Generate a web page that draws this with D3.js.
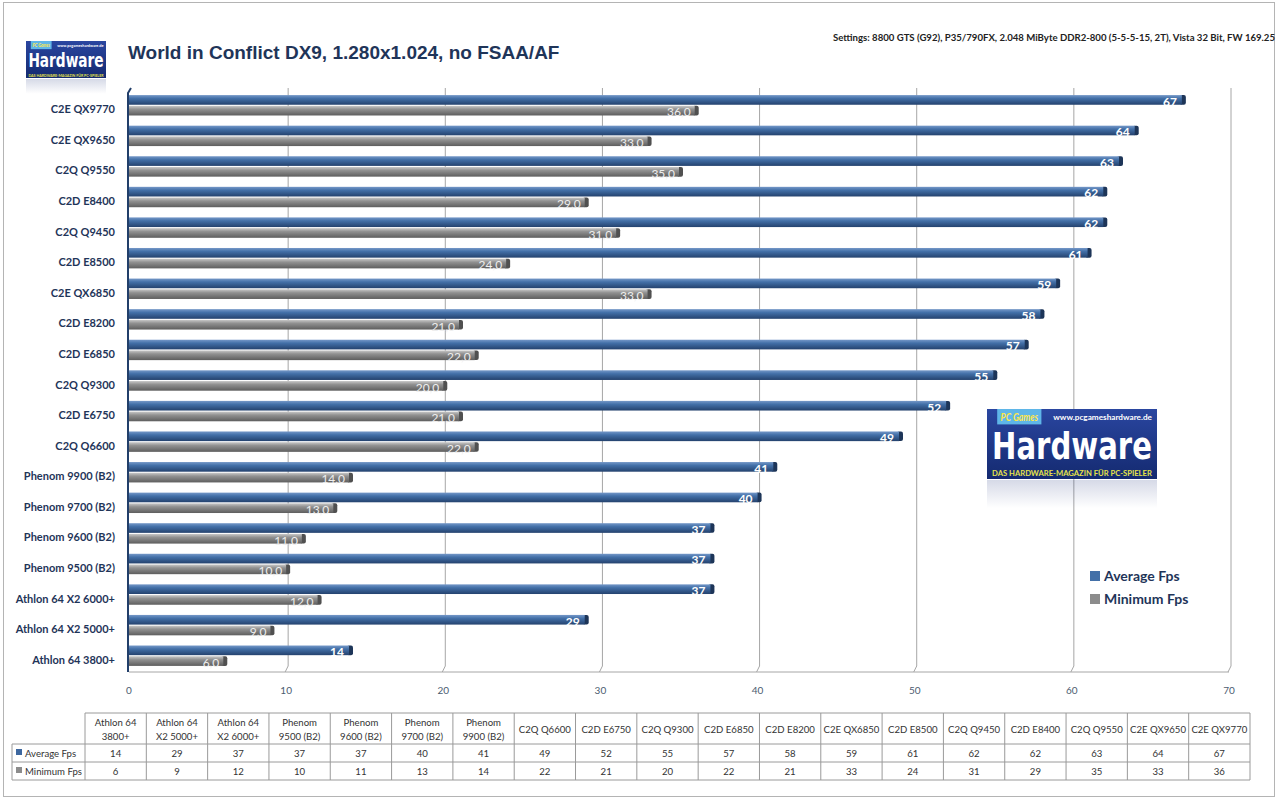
<!doctype html>
<html>
<head>
<meta charset="utf-8">
<script src="https://cdnjs.cloudflare.com/ajax/libs/d3/7.8.5/d3.min.js"></script>
<style>
  body { margin: 0; background: #fff; }
  svg { display: block; font-family: Lato, "Open Sans", sans-serif; }
</style>
</head>
<body>
<svg width="1280" height="798"></svg>
<script>
// data, in the table's order (lowest first)
var cpus = ["Athlon 64 3800+", "Athlon 64 X2 5000+", "Athlon 64 X2 6000+", "Phenom 9500 (B2)",
            "Phenom 9600 (B2)", "Phenom 9700 (B2)", "Phenom 9900 (B2)", "C2Q Q6600", "C2D E6750",
            "C2Q Q9300", "C2D E6850", "C2D E8200", "C2E QX6850", "C2D E8500", "C2Q Q9450",
            "C2D E8400", "C2Q Q9550", "C2E QX9650", "C2E QX9770"];
var avgFps = [14, 29, 37, 37, 37, 40, 41, 49, 52, 55, 57, 58, 59, 61, 62, 62, 63, 64, 67];
var minFps = [6, 9, 12, 10, 11, 13, 14, 22, 21, 20, 22, 21, 33, 24, 31, 29, 35, 33, 36];
var series = ["Average Fps", "Minimum Fps"];
var xTicks = [0, 10, 20, 30, 40, 50, 60, 70];

var svg = d3.select("svg");
var rows = cpus.map(function(c, i) { return {cpu: c, avg: avgFps[i], min: minFps[i]}; });

var x = d3.scaleLinear().domain([0, 70]).range([129, 1229]);
var y = d3.scaleBand().domain(cpus.slice().reverse()).range([90, 671])
          .paddingInner(0.333).paddingOuter(0.1665);
var sub = d3.scaleBand().domain(["avg", "min"]).range([0, y.bandwidth()]).paddingInner(0.1);

// gradients
var defs = svg.append("defs");
function grad(id, stops) {
  var g = defs.append("linearGradient").attr("id", id).attr("x1", 0).attr("y1", 0).attr("x2", 0).attr("y2", 1);
  stops.forEach(function(s) { g.append("stop").attr("offset", s[0]).attr("stop-color", s[1]).attr("stop-opacity", s[2] == null ? 1 : s[2]); });
}
grad("gBlue", [[0, "#7598c8"], [0.35, "#4370a8"], [1, "#24426e"]]);
grad("gGray", [[0, "#c8c8c8"], [0.35, "#919191"], [1, "#5e5e5e"]]);
grad("gLogo", [[0, "#2a46a0"], [1, "#142a70"]]);
grad("gRefl", [[0, "#1a2f7a", 0.18], [1, "#1a2f7a", 0]]);

// outer frame
svg.append("rect").attr("x", 3.5).attr("y", 2.5).attr("width", 1271).attr("height", 794)
   .attr("fill", "none").attr("stroke", "#b4b4b4");

// title + settings
svg.append("text").attr("x", 128).attr("y", 59)
   .attr("font-family", "Liberation Sans, Arial, sans-serif").attr("font-weight", "bold")
   .attr("font-size", 19).attr("fill", "#1f3559")
   .text("World in Conflict DX9, 1.280x1.024, no FSAA/AF");
svg.append("text").attr("x", 1275).attr("y", 41).attr("text-anchor", "end")
   .attr("font-size", 9.6).attr("font-weight", "bold").attr("fill", "#222")
   .text("Settings: 8800 GTS (G92), P35/790FX, 2.048 MiByte DDR2-800 (5-5-5-15, 2T), Vista 32 Bit, FW 169.25");

// logos
function logo(g, w, h) {
  g.append("rect").attr("x", 0).attr("y", h + 1).attr("width", w).attr("height", h * 0.4)
   .attr("fill", "url(#gRefl)");
  g.append("rect").attr("width", w).attr("height", h).attr("fill", "url(#gLogo)");
  g.append("rect").attr("x", w * 0.06).attr("y", 0).attr("width", w * 0.26).attr("height", h * 0.22).attr("fill", "#5fb6e8");
  g.append("text").attr("x", w * 0.08).attr("y", h * 0.17).attr("font-size", h * 0.15)
   .attr("font-style", "italic").attr("font-weight", "bold").attr("fill", "#ffe74a")
   .attr("textLength", w * 0.22).attr("lengthAdjust", "spacingAndGlyphs").text("PC Games");
  g.append("text").attr("x", w * 0.97).attr("y", h * 0.16).attr("text-anchor", "end")
   .attr("font-size", h * 0.1).attr("font-weight", "bold").attr("fill", "#fff")
   .attr("textLength", w * 0.58).attr("lengthAdjust", "spacingAndGlyphs").text("www.pcgameshardware.de");
  g.append("text").attr("x", w * 0.03).attr("y", h * 0.71)
   .attr("font-family", "DejaVu Sans Condensed, DejaVu Sans, sans-serif").attr("font-weight", "bold")
   .attr("font-size", h * 0.54).attr("fill", "#fff")
   .attr("textLength", w * 0.94).attr("lengthAdjust", "spacingAndGlyphs").text("Hardware");
  g.append("text").attr("x", w * 0.03).attr("y", h * 0.96).attr("font-size", h * 0.12)
   .attr("font-weight", "bold").attr("fill", "#e6e34a")
   .attr("textLength", w * 0.94).attr("lengthAdjust", "spacingAndGlyphs")
   .text("DAS HARDWARE-MAGAZIN FÜR PC-SPIELER");
}
logo(svg.append("g").attr("transform", "translate(26,41)"), 80, 37);

// grid with 3D floor
var grid = svg.append("g");
grid.selectAll("path.grid").data(xTicks.slice(1)).enter().append("path")
    .attr("d", function(d) { return "M" + (x(d) + 2) + ",88V666L" + (x(d) - 1) + ",672"; })
    .attr("fill", "none").attr("stroke", "#a6a6a6");
grid.append("path").attr("d", "M129,672H" + x(70)).attr("stroke", "#a6a6a6");
grid.append("path").attr("d", "M131,88L128,93V672").attr("fill", "none").attr("stroke", "#223f6a").attr("stroke-width", 2);

// x tick labels
svg.append("g").selectAll("text").data(xTicks).enter().append("text")
   .attr("x", function(d) { return x(d); }).attr("y", 694).attr("text-anchor", "middle")
   .attr("font-size", 10).attr("fill", "#4b5c70").text(function(d) { return d; });

// category labels
svg.append("g").selectAll("text").data(rows).enter().append("text")
   .attr("x", 115).attr("y", function(d) { return y(d.cpu) + y.bandwidth() / 2 + 8; })
   .attr("text-anchor", "end").attr("font-size", 11).attr("font-weight", "bold").attr("fill", "#1f3559")
   .text(function(d) { return d.cpu.replace(" (B2)", "  (B2)"); });

// bars
function bars(key, fill, cap) {
  var g = svg.append("g");
  var sel = g.selectAll("g").data(rows).enter().append("g");
  sel.append("rect")
     .attr("x", function(d) { return x(d[key]) - 2; })
     .attr("y", function(d) { return y(d.cpu) + sub(key); })
     .attr("width", 6).attr("height", sub.bandwidth()).attr("rx", 2)
     .attr("fill", cap);
  sel.append("rect")
     .attr("x", x(0))
     .attr("y", function(d) { return y(d.cpu) + sub(key); })
     .attr("width", function(d) { return x(d[key]) - x(0); })
     .attr("height", sub.bandwidth()).attr("fill", fill);
  return sel;
}
var blue = bars("avg", "url(#gBlue)", "#1d3558");
var gray = bars("min", "url(#gGray)", "#505050");

blue.append("text")
    .attr("x", function(d) { return x(d.avg) - 5; })
    .attr("y", function(d) { return y(d.cpu) + sub("avg") + sub.bandwidth() + 1; })
    .attr("text-anchor", "end").attr("font-size", 12).attr("font-weight", "bold").attr("fill", "#fff")
    .text(function(d) { return d.avg; });
gray.append("text")
    .attr("x", function(d) { return x(d.min) - 4; })
    .attr("y", function(d) { return y(d.cpu) + sub("min") + sub.bandwidth() + 1; })
    .attr("text-anchor", "end").attr("font-size", 12).attr("fill", "#eeeeee")
    .text(function(d) { return d3.format(".1f")(d.min).replace(".", ","); });

// big logo
logo(svg.append("g").attr("transform", "translate(987,409)"), 170, 70);

// legend
var legend = svg.append("g").selectAll("g").data(series).enter().append("g")
   .attr("transform", function(d, i) { return "translate(1090," + (571 + i * 23) + ")"; });
legend.append("rect").attr("width", 10).attr("height", 10)
   .attr("fill", function(d, i) { return i ? "#8c8c8c" : "#4370a8"; });
legend.append("text").attr("x", 14).attr("y", 10).attr("font-size", 14).attr("font-weight", "bold")
   .attr("fill", "#1f3559").text(function(d) { return d.replace("Minimum ", "Minimum  "); });

// data table
var colX = d3.scaleBand().domain(cpus).range([85, 1250]);
var tbl = svg.append("g").attr("font-size", 9.6).attr("fill", "#333");
var tTop = 713, tHead = 744, tMid = 762, tBot = 780;
var lineCol = "#9a9a9a";
tbl.append("path").attr("fill", "none").attr("stroke", lineCol)
   .attr("d", "M85," + tTop + "H1250V" + tBot + "H12V" + tHead + "H1250M12," + tMid + "H1250M85," + tTop + "V" + tBot);
tbl.selectAll("line.col").data(cpus.slice(1)).enter().append("line")
   .attr("x1", function(d) { return colX(d); }).attr("x2", function(d) { return colX(d); })
   .attr("y1", tTop).attr("y2", tBot).attr("stroke", lineCol);

function headLines(name) {
  var m = name.match(/^(Athlon 64|Phenom) (.+)$/);
  return m ? [m[1], m[2]] : [name];
}
var head = tbl.selectAll("text.h").data(cpus).enter().append("text")
   .attr("text-anchor", "middle").attr("fill", "#333");
head.each(function(d) {
  var lines = headLines(d), t = d3.select(this), cx = colX(d) + colX.bandwidth() / 2;
  lines.forEach(function(l, i) {
    t.append("tspan").attr("x", cx)
     .attr("y", (tTop + tHead) / 2 + 4 + (i - (lines.length - 1) / 2) * 14).text(l);
  });
});
[avgFps, minFps].forEach(function(vals, r) {
  var yy = r ? (tMid + tBot) / 2 + 4 : (tHead + tMid) / 2 + 4;
  tbl.append("rect").attr("x", 16).attr("y", yy - 8).attr("width", 6).attr("height", 6)
     .attr("fill", r ? "#8c8c8c" : "#3d679f");
  tbl.append("text").attr("x", 25).attr("y", yy).attr("fill", "#333").text(series[r]);
  tbl.selectAll(null).data(vals).enter().append("text")
     .attr("x", function(d, i) { return colX(cpus[i]) + colX.bandwidth() / 2; })
     .attr("y", yy).attr("text-anchor", "middle").attr("fill", "#333").text(function(d) { return d; });
});
</script>
</body>
</html>
